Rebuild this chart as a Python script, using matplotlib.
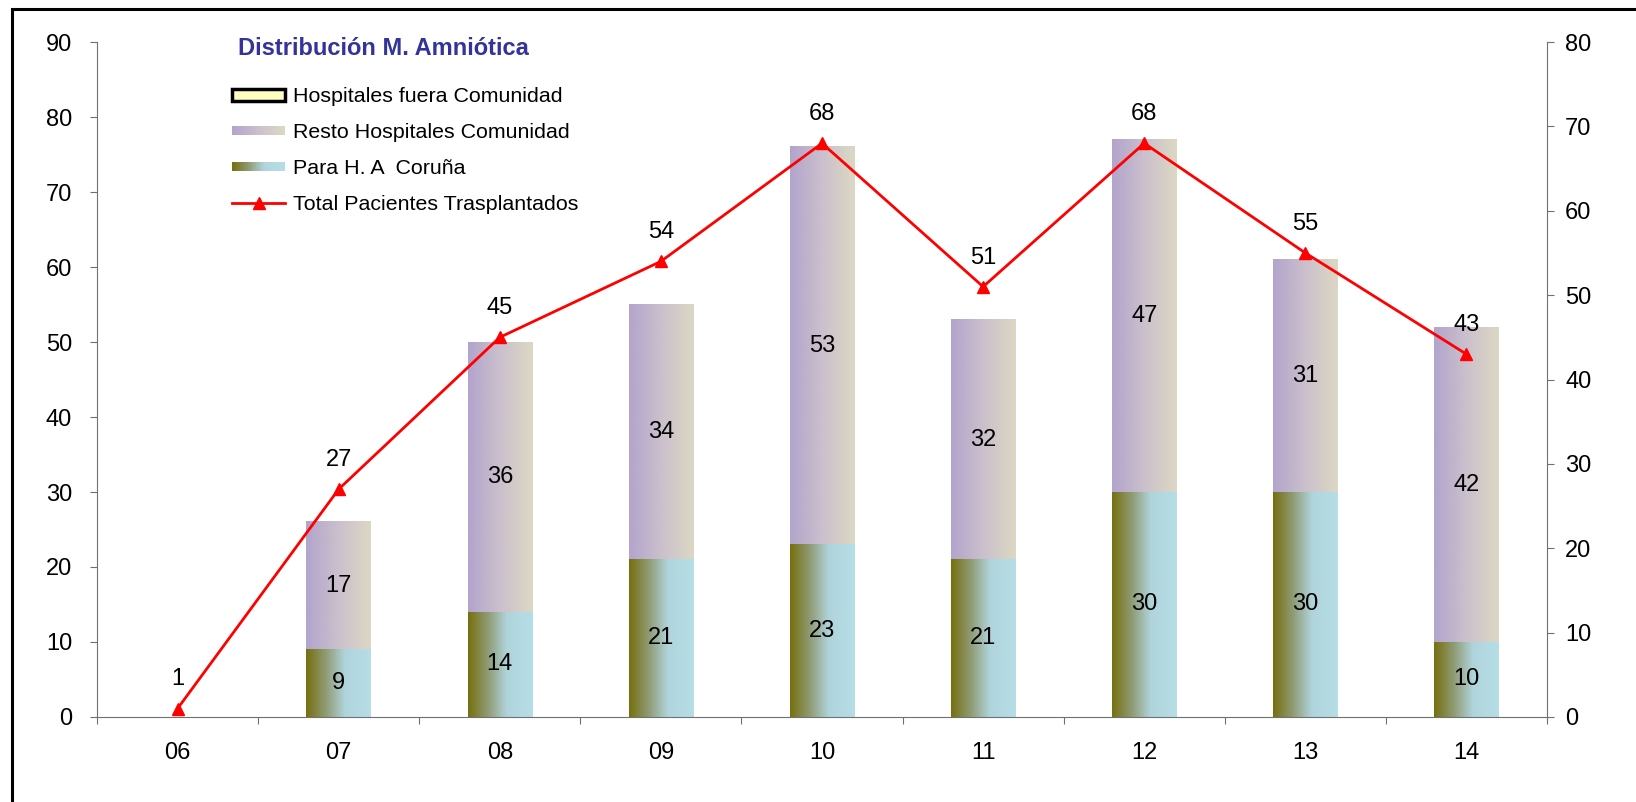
import numpy as np
import matplotlib
matplotlib.use("Agg")
import matplotlib.pyplot as plt
from matplotlib.colors import LinearSegmentedColormap
from matplotlib.patches import Rectangle
from matplotlib.lines import Line2D
from matplotlib.legend_handler import HandlerBase

plt.rcParams['font.family'] = ['Liberation Sans', 'DejaVu Sans']

years = ["06", "07", "08", "09", "10", "11", "12", "13", "14"]
para_coruna = [0, 9, 14, 21, 23, 21, 30, 30, 10]
resto_comunidad = [0, 17, 36, 34, 53, 32, 47, 31, 42]
fuera_comunidad = [0, 0, 0, 0, 0, 0, 0, 0, 0]
total_pacientes = [1, 27, 45, 54, 68, 51, 68, 55, 43]

title = "Distribución M. Amniótica"
labels = ["Hospitales fuera Comunidad", "Resto Hospitales Comunidad",
          "Para H. A  Coruña", "Total Pacientes Trasplantados"]

cmap_para = LinearSegmentedColormap.from_list(
    "para", [(0, "#76700e"), (0.3, "#8f9a72"), (0.6, "#b0d4dc"), (1, "#b6dee7")])
cmap_resto = LinearSegmentedColormap.from_list(
    "resto", [(0, "#b2a4cc"), (0.5, "#cbc0cc"), (1, "#dcd8c4")])
axis_gray = "#707070"


class GradientHandler(HandlerBase):
    def __init__(self, cmap):
        super().__init__()
        self.cmap = cmap

    def create_artists(self, legend, orig_handle, xdescent, ydescent,
                       width, height, fontsize, trans):
        n = 40
        h = height * 0.75
        y0 = -ydescent + (height - h) / 2
        arts = []
        for k in range(n):
            r = Rectangle((-xdescent + width * k / n, y0), width / n * 1.05, h,
                          facecolor=self.cmap(k / (n - 1)), edgecolor="none",
                          transform=trans)
            arts.append(r)
        return arts


fig = plt.figure(figsize=(16.36, 8.02), dpi=100)
ax = fig.add_axes([0.0593, 0.106, 0.8863, 0.8416])
ax2 = ax.twinx()

x = np.arange(len(years))
w = 0.4
grad = np.linspace(0, 1, 256).reshape(1, -1)
for i in x:
    b = 0
    for vals, cm in ((para_coruna, cmap_para), (resto_comunidad, cmap_resto)):
        h = vals[i]
        if h > 0:
            ax.imshow(grad, extent=[i - w / 2, i + w / 2, b, b + h], aspect="auto",
                      cmap=cm, interpolation="bilinear", zorder=2)
            ax.text(i, b + h / 2, str(h), ha="center", va="center",
                    fontsize=17, zorder=3)
        b += h
    if fuera_comunidad[i] > 0:
        ax.bar(i, fuera_comunidad[i], w, bottom=b, color="#ffffc0",
               edgecolor="black", lw=2, zorder=2)

ax.set_xlim(-0.5, len(years) - 0.5)
ax.set_ylim(0, 90)
ax.set_yticks(range(0, 91, 10))
ax.set_xticks(np.arange(-0.5, len(years), 1))
ax.set_xticklabels([])
ax.set_xticks(x, minor=True)
ax.set_xticklabels(years, minor=True)
ax.tick_params(axis="x", which="major", direction="out", length=5, color=axis_gray)
ax.tick_params(axis="x", which="minor", length=0, pad=18, labelsize=17)
ax.tick_params(axis="y", direction="out", length=5, color=axis_gray,
               labelsize=17, pad=13)
for s in ("top", "right"):
    ax.spines[s].set_visible(False)
for s in ("left", "bottom"):
    ax.spines[s].set_color(axis_gray)

ax2.plot(x, total_pacientes, color="#ff0000", lw=2, marker="^", markersize=9,
         zorder=4)
for i, v in zip(x, total_pacientes):
    ax2.annotate(str(v), (i, v), xytext=(0, 21), textcoords="offset points",
                 ha="center", va="center", fontsize=17)
ax2.set_ylim(0, 80)
ax2.set_yticks(range(0, 81, 10))
ax2.tick_params(axis="y", direction="out", length=5, color=axis_gray,
                labelsize=17, pad=8)
for s in ("top", "left", "bottom"):
    ax2.spines[s].set_visible(False)
ax2.spines["right"].set_color(axis_gray)

ax2.text(0.0972, 0.99, title, transform=ax2.transAxes, fontsize=17,
         fontweight="bold", color="#333399", va="center", ha="left")

h_fuera = Rectangle((0, 0), 1, 1, facecolor="#ffffc0", edgecolor="black", lw=2.5)
h_resto = Rectangle((0, 0), 1, 1)
h_para = Rectangle((0, 0), 1, 1)
h_total = Line2D([], [], color="#ff0000", lw=2, marker="^", markersize=9)
leg = ax2.legend([h_fuera, h_resto, h_para, h_total], labels,
                 handler_map={h_resto: GradientHandler(cmap_resto),
                              h_para: GradientHandler(cmap_para)},
                 loc="upper left", bbox_to_anchor=(0.093, 0.933),
                 frameon=False, fontsize=15.4, borderpad=0, borderaxespad=0,
                 handlelength=2.5, handleheight=0.5, handletextpad=0.35,
                 labelspacing=0.79, numpoints=1)

fig.patches.append(Rectangle((12 / 1636, -0.1), 1.2, 1.1 - 9 / 802,
                             transform=fig.transFigure, fill=False,
                             edgecolor="black", lw=2.2, clip_on=False))

fig.savefig("out.png", dpi=100)
